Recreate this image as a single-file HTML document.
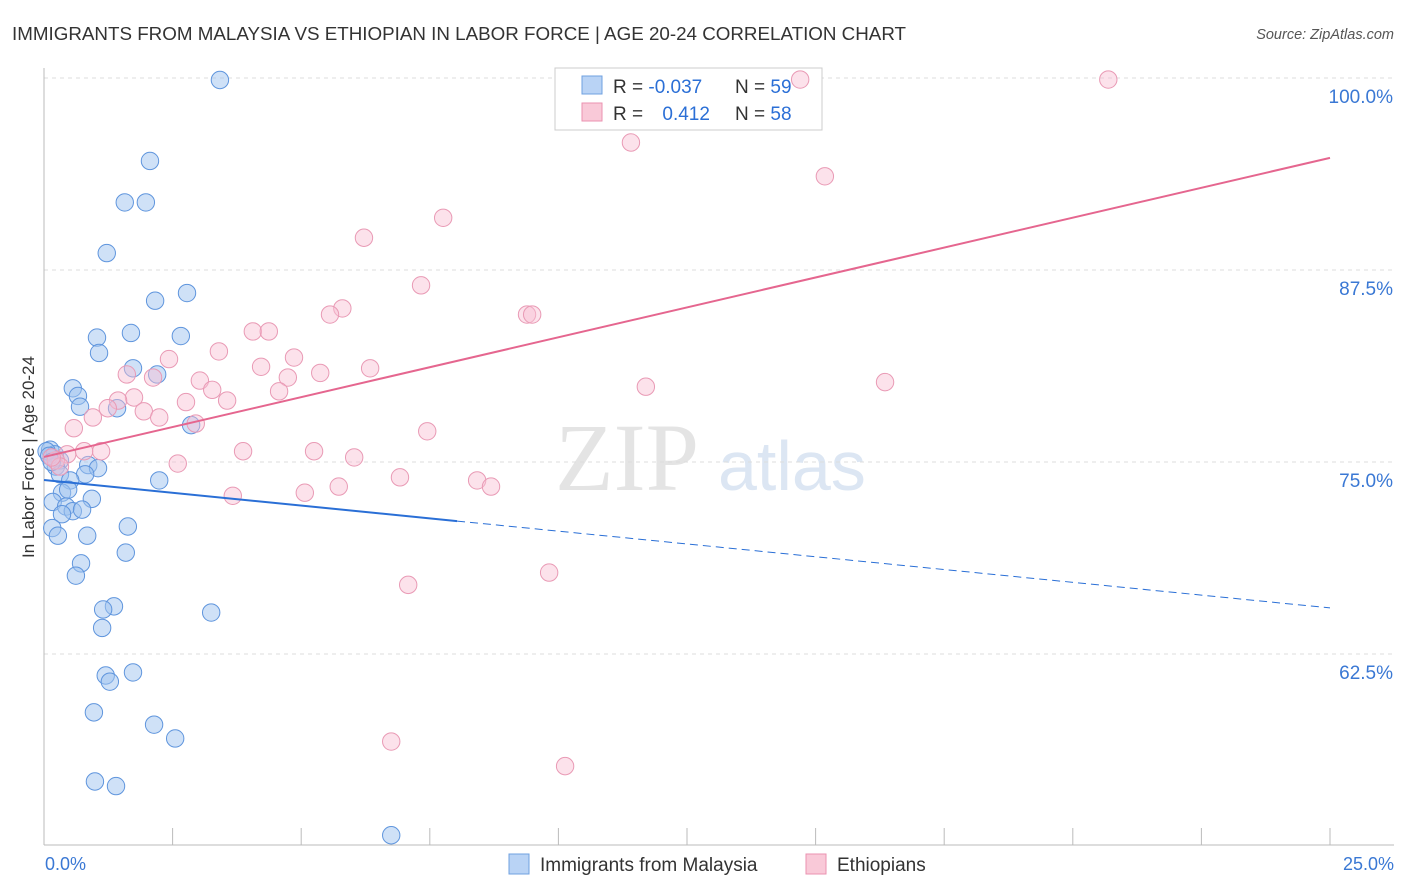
<!DOCTYPE html>
<html><head><meta charset="utf-8"><style>
body{margin:0;background:#fff;font-family:"Liberation Sans",sans-serif;}
#wrap{position:relative;width:1406px;height:892px;overflow:hidden;}
</style></head><body>
<div id="wrap">
<svg id="svg" width="1406" height="892" xmlns="http://www.w3.org/2000/svg">
<text x="12" y="40" font-size="18.8" fill="#333">IMMIGRANTS FROM MALAYSIA VS ETHIOPIAN IN LABOR FORCE | AGE 20-24 CORRELATION CHART</text>
<text x="1394" y="39" font-size="14.5" fill="#555" font-style="italic" text-anchor="end">Source: ZipAtlas.com</text>
<text x="555" y="490" font-size="96" fill="#e4e4e4" font-family="Liberation Serif">ZIP</text>
<text x="718" y="490" font-size="70" fill="#dce6f3">atlas</text>
<text transform="translate(34,457) rotate(-90)" font-size="17" fill="#333" text-anchor="middle">In Labor Force | Age 20-24</text>
<g id="grid"></g>
<g>
<rect x="555" y="68" width="267" height="62" fill="#fff" stroke="#ccc"/>
<rect x="582" y="76" width="20" height="18" fill="#b9d3f5" stroke="#6fa0e0"/>
<rect x="582" y="103" width="20" height="18" fill="#f9c9d8" stroke="#eb92b0"/>
<text x="613" y="93" font-size="19" fill="#333">R = <tspan fill="#2b6fd6">-0.037</tspan></text>
<text x="735" y="93" font-size="19" fill="#333">N = <tspan fill="#2b6fd6">59</tspan></text>
<text x="613" y="120" font-size="19" fill="#333">R = <tspan fill="#2b6fd6" dx="14">0.412</tspan></text>
<text x="735" y="120" font-size="19" fill="#333">N = <tspan fill="#2b6fd6">58</tspan></text>
</g>
<g id="pts"></g><g id="lines"></g>
<g>
<rect x="509" y="854" width="20" height="20" fill="#b9d3f5" stroke="#6fa0e0"/>
<text x="540" y="871" font-size="19" fill="#333">Immigrants from Malaysia</text>
<rect x="806" y="854" width="20" height="20" fill="#f9c9d8" stroke="#eb92b0"/>
<text x="837" y="871" font-size="19" fill="#333">Ethiopians</text>
</g>
<text x="45" y="870" font-size="18" fill="#3a78d4">0.0%</text>
<text x="1394" y="870" font-size="18" fill="#3a78d4" text-anchor="end">25.0%</text>
</svg></div>
<script>
const yTicks=[100,87.5,75,62.5];
const yTickLabels=["100.0%","87.5%","75.0%","62.5%"];
const blueX=[3.42,2.06,1.57,1.98,1.22,2.16,2.78,1.03,1.69,2.66,1.07,1.73,2.20,0.56,0.66,0.70,1.42,2.86,0.12,0.21,0.31,0.23,0.86,1.05,0.31,0.80,0.51,2.24,0.35,0.47,0.93,0.17,0.43,0.56,0.74,0.35,1.63,0.16,0.27,0.84,1.59,0.72,0.62,1.36,1.15,3.25,1.13,1.73,1.20,1.28,0.97,2.14,2.55,0.99,1.40,6.75,0.05,0.10,0.15];
const blueY=[99.87,94.6,91.9,91.9,88.6,85.5,86.0,83.1,83.4,83.2,82.1,81.1,80.7,79.8,79.3,78.6,78.5,77.4,75.8,75.5,75.1,74.7,74.8,74.6,74.2,74.2,73.8,73.8,73.0,73.2,72.6,72.4,72.1,71.8,71.9,71.6,70.8,70.7,70.2,70.2,69.1,68.4,67.6,65.6,65.4,65.2,64.2,61.3,61.1,60.7,58.7,57.9,57.0,54.2,53.9,50.7,75.7,75.4,75.0];
const pinkX=[20.69,14.7,11.41,15.18,7.76,6.22,7.33,5.80,5.56,9.39,9.49,4.06,4.37,3.40,4.86,2.43,4.22,6.34,5.37,1.61,2.12,4.74,3.03,16.35,3.27,11.70,4.57,1.75,2.76,3.56,1.44,1.24,1.94,2.24,0.95,2.95,0.58,7.45,1.11,0.78,3.87,5.25,0.45,6.03,0.23,2.60,0.31,6.92,8.42,5.73,8.69,5.07,3.67,9.82,7.08,6.75,10.13,0.15];
const pinkY=[99.9,99.9,95.8,93.6,90.9,89.6,86.5,85.0,84.6,84.6,84.6,83.5,83.5,82.2,81.8,81.7,81.2,81.1,80.8,80.7,80.5,80.5,80.3,80.2,79.7,79.9,79.6,79.2,78.9,79.0,79.0,78.5,78.3,77.9,77.9,77.5,77.2,77.0,75.7,75.7,75.7,75.7,75.5,75.3,75.1,74.9,74.7,74.0,73.8,73.4,73.4,73.0,72.8,67.8,67.0,56.8,55.2,75.3];
const blueTrend=[73.83,65.5], blueSolidEnd=8.03;
const pinkTrend=[75.33,94.8];
const NS="http://www.w3.org/2000/svg";
const X=v=>44+v/25*1286, Y=v=>462-(v-75)*15.36;
function mk(tag,attrs,parent){const e=document.createElementNS(NS,tag);for(const k in attrs)e.setAttribute(k,attrs[k]);document.getElementById(parent).appendChild(e);return e;}
yTicks.forEach((t,i)=>{
 const g=mk('line',{x1:44,x2:1394,y1:Y(t),y2:Y(t),stroke:'#ddd','stroke-dasharray':'4,4'},'grid');
 
 
 const l=mk('text',{x:1393,y:Y(t)+25,'font-size':19,fill:'#3a78d4','text-anchor':'end'},'grid');
 l.textContent=yTickLabels[i];
 
 
});
const ax=mk('line',{x1:44,x2:1394,y1:845,y2:845,stroke:'#bbb'},'grid');


const ay=mk('line',{x1:44,x2:44,y1:68,y2:845,stroke:'#bbb'},'grid');


for(let i=0;i<=10;i++){const t=mk('line',{x1:X(i*2.5),x2:X(i*2.5),y1:828,y2:845,stroke:'#bbb'},'grid');
 
 }
blueX.forEach((x,i)=>{const c=mk('circle',{cx:X(x),cy:Y(blueY[i]),r:8.7,fill:'rgba(160,195,240,0.5)',stroke:'#5f95dd','stroke-width':1},'pts');
 
 });
pinkX.forEach((x,i)=>{const c=mk('circle',{cx:X(x),cy:Y(pinkY[i]),r:8.7,fill:'rgba(248,190,210,0.45)',stroke:'#e99ab5','stroke-width':1},'pts');
 
 });
const bAt=x=>blueTrend[0]+(blueTrend[1]-blueTrend[0])*x/25;
const b1=mk('line',{x1:X(0),y1:Y(bAt(0)),x2:X(blueSolidEnd),y2:Y(bAt(blueSolidEnd)),stroke:'#2a6fd6','stroke-width':2},'lines');


const b2=mk('line',{x1:X(blueSolidEnd),y1:Y(bAt(blueSolidEnd)),x2:X(25),y2:Y(bAt(25)),stroke:'#2a6fd6','stroke-width':1,'stroke-dasharray':'8,5'},'lines');


const p=mk('line',{x1:X(0),y1:Y(pinkTrend[0]),x2:X(25),y2:Y(pinkTrend[1]),stroke:'#e5668f','stroke-width':2},'lines');


</script>
</body></html>
